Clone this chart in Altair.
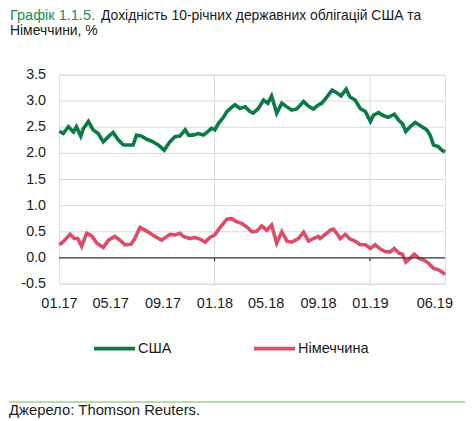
import altair as alt
import pandas as pd

# ---- data ----
us_dates = ["2017-01-02","2017-01-11","2017-01-23","2017-02-04","2017-02-11","2017-02-21","2017-02-27",
            "2017-03-11","2017-03-22","2017-04-03","2017-04-15","2017-04-27","2017-05-08","2017-05-20",
            "2017-06-01","2017-06-13","2017-06-24","2017-07-02","2017-07-14","2017-07-26","2017-08-10",
            "2017-08-22","2017-09-05","2017-09-18","2017-09-30","2017-10-12","2017-10-24","2017-11-01",
            "2017-11-12","2017-11-24","2017-12-06","2017-12-17","2017-12-25","2018-01-02","2018-01-10",
            "2018-01-22","2018-01-30","2018-02-10","2018-02-18","2018-03-02","2018-03-14","2018-03-25",
            "2018-04-02","2018-04-14","2018-04-26","2018-05-06","2018-05-15","2018-05-27","2018-06-08",
            "2018-06-20","2018-07-01","2018-07-13","2018-07-29","2018-08-10","2018-08-21","2018-09-02",
            "2018-09-10","2018-09-22","2018-10-04","2018-10-15","2018-10-25","2018-11-06","2018-11-15",
            "2018-11-27","2018-12-09","2018-12-21","2019-01-02","2019-01-09","2019-01-21","2019-02-02",
            "2019-02-13","2019-02-27","2019-03-09","2019-03-18","2019-03-26","2019-04-05","2019-04-17",
            "2019-05-01","2019-05-14","2019-05-22","2019-05-30","2019-06-10","2019-06-19","2019-06-26"]
us_vals = [2.42,2.38,2.51,2.41,2.51,2.33,2.47,
           2.61,2.45,2.38,2.22,2.32,2.40,2.26,
           2.16,2.16,2.16,2.35,2.33,2.27,2.22,
           2.16,2.06,2.22,2.32,2.33,2.45,2.35,
           2.35,2.38,2.35,2.42,2.48,2.45,2.57,
           2.69,2.80,2.88,2.93,2.86,2.89,2.80,
           2.77,2.86,3.02,2.96,3.10,2.77,2.96,
           2.89,2.83,2.85,2.99,2.90,2.85,2.93,
           2.96,3.08,3.21,3.16,3.10,3.23,3.08,
           3.02,2.86,2.80,2.61,2.73,2.78,2.72,
           2.69,2.75,2.64,2.57,2.42,2.51,2.59,
           2.52,2.45,2.35,2.16,2.13,2.06,2.03]

de_dates = ["2017-01-02","2017-01-11","2017-01-27","2017-02-06","2017-02-14","2017-02-23","2017-03-07",
            "2017-03-19","2017-03-31","2017-04-15","2017-04-27","2017-05-12","2017-05-24","2017-06-05",
            "2017-06-19","2017-06-28","2017-07-10","2017-07-22","2017-08-03","2017-08-14","2017-08-30",
            "2017-09-19","2017-09-30","2017-10-12","2017-10-20","2017-11-04","2017-11-16","2017-11-28",
            "2017-12-10","2017-12-21","2018-01-02","2018-01-14","2018-01-30","2018-02-10","2018-02-22",
            "2018-03-06","2018-03-18","2018-03-30","2018-04-10","2018-04-22","2018-05-04","2018-05-15",
            "2018-05-27","2018-06-08","2018-06-20","2018-07-01","2018-07-17","2018-07-29","2018-08-10",
            "2018-08-21","2018-09-02","2018-09-06","2018-09-18","2018-09-30","2018-10-07","2018-10-15",
            "2018-10-23","2018-11-04","2018-11-15","2018-11-27","2018-12-09","2018-12-21","2019-01-02",
            "2019-01-13","2019-01-25","2019-02-06","2019-02-17","2019-02-27","2019-03-10","2019-03-18",
            "2019-03-26","2019-04-05","2019-04-15","2019-04-26","2019-05-07","2019-05-18","2019-05-30",
            "2019-06-11","2019-06-22","2019-06-26"]
de_vals = [0.25,0.31,0.45,0.37,0.37,0.22,0.47,
           0.42,0.28,0.20,0.34,0.41,0.34,0.25,
           0.26,0.37,0.58,0.53,0.47,0.41,0.34,
           0.45,0.44,0.47,0.41,0.37,0.39,0.36,
           0.30,0.39,0.44,0.58,0.74,0.75,0.69,
           0.66,0.59,0.50,0.51,0.61,0.53,0.63,
           0.28,0.50,0.32,0.30,0.37,0.49,0.32,
           0.37,0.41,0.37,0.45,0.53,0.55,0.47,
           0.37,0.45,0.36,0.32,0.25,0.25,0.18,
           0.25,0.17,0.12,0.11,0.18,0.09,0.07,
           -0.08,-0.01,0.07,-0.01,-0.04,-0.10,-0.20,
           -0.23,-0.29,-0.32]

series_names = ["США", "Німеччина"]
series_colors = ["#0b7b45", "#da4e67"]
grid_dates = ["2018-01-01", "2019-01-01"]
y_ticks = [-0.5, 0.0, 0.5, 1.0, 1.5, 2.0, 2.5, 3.0, 3.5]
y_labels = ["-0.5", "0.0", "0.5", "1.0", "1.5", "2.0", "2.5", "3.0", "3.5"]
title_green = ["Графік 1.1.5."]
title_rest = ["Дохідність 10-річних державних облігацій США та"]
title_line2 = ["Німеччини, %"]
source_text = ["Джерело: Thomson Reuters."]

FONT = "Liberation Sans"
TXT = "#1a1a1a"

df = pd.concat([
    pd.DataFrame({"date": us_dates, "value": us_vals, "series": series_names[0]}),
    pd.DataFrame({"date": de_dates, "value": de_vals, "series": series_names[1]}),
])
ydf = pd.DataFrame({"v": y_ticks, "lab": y_labels})

def D(s):
    y, m, d = map(int, s.split("-"))
    return alt.DateTime(year=y, month=m, date=d, utc=True)

tick_vals = [D(s) for s in ["2017-01-01","2017-05-01","2017-09-01","2018-01-01",
                            "2018-05-01","2018-09-01","2019-01-01","2019-06-01"]]

xscale = alt.Scale(type="utc", domain=[D("2017-01-01"), D("2019-06-26")])
yscale = alt.Scale(domain=[-0.5, 3.5], nice=False, zero=False)
no_y_axis = alt.Axis(labels=False, ticks=False, grid=False, domain=False)

vgrid = alt.Chart(pd.DataFrame({"date": grid_dates})).mark_rule(
    color="#d9d9d9", strokeWidth=1
).encode(x=alt.X("date:T", scale=xscale))

hgrid = alt.Chart(ydf).mark_rule(color="#d9d9d9", strokeWidth=1).encode(
    y=alt.Y("v:Q", scale=yscale, axis=no_y_axis, title=None)
)

ylab = alt.Chart(ydf).mark_text(
    align="right", baseline="middle", font=FONT, fontSize=14.3, color=TXT
).encode(y=alt.Y("v:Q", scale=yscale, axis=no_y_axis, title=None),
         x=alt.value(-13), text="lab:N")

zero = alt.Chart(pd.DataFrame({"k": [1]})).mark_rule(
    color="#3a3a3a", strokeWidth=1.2
).encode(y=alt.datum(0))

small_ticks = alt.Chart(pd.DataFrame({"date": grid_dates})).mark_rule(
    color="#3a3a3a", strokeWidth=1.2
).encode(x=alt.X("date:T", scale=xscale), y=alt.datum(0), y2=alt.datum(-0.06))

lines = alt.Chart(df).mark_line(strokeWidth=3.6, interpolate="linear").encode(
    x=alt.X("date:T", scale=xscale, title=None,
            axis=alt.Axis(values=tick_vals, format="%m.%y", grid=False, ticks=False,
                          domain=False, labelPadding=12, labelFontSize=14.5,
                          labelFlush=False, labelOverlap=False,
                          labelColor=TXT, labelFont=FONT)),
    y=alt.Y("value:Q", scale=yscale, title=None, axis=no_y_axis),
    color=alt.Color("series:N", sort=series_names,
                    scale=alt.Scale(domain=series_names, range=series_colors),
                    legend=alt.Legend(title=None, orient="none", legendX=33, legendY=251,
                                      direction="horizontal", symbolType="stroke",
                                      symbolSize=1681, symbolStrokeWidth=3.6,
                                      labelFontSize=14.5, labelFont=FONT, labelColor=TXT,
                                      labelOffset=1, columnPadding=74, padding=0)),
    detail="series:N",
)

def txt(values, x, y, color, size):
    return alt.Chart(pd.DataFrame({"t": values})).mark_text(
        align="left", baseline="alphabetic", font=FONT, fontSize=size, color=color
    ).encode(text="t:N", x=alt.value(x), y=alt.value(y))

t1 = txt(title_green, -49, -55, "#21895a", 14.5)
t2 = txt(title_rest, 42, -55, TXT, 13.9)
t3 = txt(title_line2, -49, -40.5, TXT, 13.9)
src = txt(source_text, -50, 340, TXT, 14.8)

bottom_rule = alt.Chart(pd.DataFrame({"k": [1]})).mark_rule(
    color="#9fd08b", strokeWidth=1.5
).encode(x=alt.value(-50), x2=alt.value(406), y=alt.value(327))

chart = alt.layer(vgrid, hgrid, lines, zero, small_ticks, ylab, t1, t2, t3, src, bottom_rule).properties(
    width=386, height=209,
    padding={"left": 51, "top": 67, "right": 20, "bottom": 137},
    autosize=alt.AutoSizeParams(type="none"),
).configure_view(stroke="#5a5a5a", strokeWidth=1.5).configure(font=FONT)

chart.save("out.html", embed_options={"renderer": "svg", "actions": False})
